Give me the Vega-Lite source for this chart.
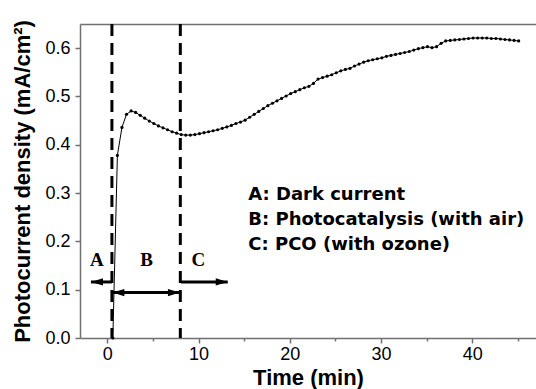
{
  "$schema": "https://vega.github.io/schema/vega-lite/v6.json",
  "width": 456,
  "height": 314,
  "autosize": {"type": "none"},
  "padding": {"left": 80, "top": 24, "right": 0, "bottom": 51},
  "background": "white",
  "config": {
    "view": {"stroke": null},
    "font": "Liberation Sans",
    "axis": {
      "grid": false,
      "domainColor": "#707070",
      "domainWidth": 1.5,
      "tickColor": "#707070",
      "tickWidth": 1.5,
      "tickSize": 5,
      "labelFont": "Liberation Sans",
      "labelFontSize": 18,
      "labelColor": "black",
      "titleFont": "Liberation Sans",
      "titleFontSize": 22,
      "titleFontWeight": "bold",
      "titleColor": "black"
    }
  },
  "datasets": {
    "curve": [
      {"t": 0.6, "j": 0.0},
      {"t": 1.1, "j": 0.378},
      {"t": 1.6, "j": 0.436},
      {"t": 2.1, "j": 0.463},
      {"t": 2.6, "j": 0.470},
      {"t": 3.1, "j": 0.467},
      {"t": 3.6, "j": 0.461},
      {"t": 4.1, "j": 0.455},
      {"t": 4.6, "j": 0.449},
      {"t": 5.1, "j": 0.444},
      {"t": 5.6, "j": 0.439},
      {"t": 6.1, "j": 0.435},
      {"t": 6.6, "j": 0.431},
      {"t": 7.1, "j": 0.427},
      {"t": 7.6, "j": 0.424},
      {"t": 8.1, "j": 0.421},
      {"t": 8.6, "j": 0.420},
      {"t": 9.1, "j": 0.420},
      {"t": 9.6, "j": 0.421},
      {"t": 10.1, "j": 0.423},
      {"t": 10.6, "j": 0.425},
      {"t": 11.1, "j": 0.427},
      {"t": 11.6, "j": 0.429},
      {"t": 12.1, "j": 0.431},
      {"t": 12.6, "j": 0.434},
      {"t": 13.1, "j": 0.437},
      {"t": 13.6, "j": 0.440},
      {"t": 14.1, "j": 0.444},
      {"t": 14.6, "j": 0.447},
      {"t": 15.1, "j": 0.451},
      {"t": 15.6, "j": 0.457},
      {"t": 16.1, "j": 0.463},
      {"t": 16.6, "j": 0.469},
      {"t": 17.1, "j": 0.475},
      {"t": 17.6, "j": 0.481},
      {"t": 18.1, "j": 0.486},
      {"t": 18.6, "j": 0.491},
      {"t": 19.1, "j": 0.496},
      {"t": 19.6, "j": 0.501},
      {"t": 20.1, "j": 0.506},
      {"t": 20.6, "j": 0.510},
      {"t": 21.1, "j": 0.514},
      {"t": 21.6, "j": 0.518},
      {"t": 22.1, "j": 0.521},
      {"t": 22.6, "j": 0.527},
      {"t": 23.1, "j": 0.536},
      {"t": 23.6, "j": 0.539},
      {"t": 24.1, "j": 0.542},
      {"t": 24.6, "j": 0.545},
      {"t": 25.1, "j": 0.549},
      {"t": 25.6, "j": 0.553},
      {"t": 26.1, "j": 0.556},
      {"t": 26.6, "j": 0.558},
      {"t": 27.1, "j": 0.563},
      {"t": 27.6, "j": 0.567},
      {"t": 28.1, "j": 0.571},
      {"t": 28.6, "j": 0.574},
      {"t": 29.1, "j": 0.576},
      {"t": 29.6, "j": 0.578},
      {"t": 30.1, "j": 0.580},
      {"t": 30.6, "j": 0.583},
      {"t": 31.1, "j": 0.585},
      {"t": 31.6, "j": 0.587},
      {"t": 32.1, "j": 0.589},
      {"t": 32.6, "j": 0.591},
      {"t": 33.1, "j": 0.593},
      {"t": 33.6, "j": 0.596},
      {"t": 34.1, "j": 0.599},
      {"t": 34.6, "j": 0.601},
      {"t": 35.1, "j": 0.603},
      {"t": 35.6, "j": 0.601},
      {"t": 36.1, "j": 0.603},
      {"t": 36.6, "j": 0.610},
      {"t": 37.1, "j": 0.615},
      {"t": 37.6, "j": 0.616},
      {"t": 38.1, "j": 0.617},
      {"t": 38.6, "j": 0.618},
      {"t": 39.1, "j": 0.619},
      {"t": 39.6, "j": 0.620},
      {"t": 40.1, "j": 0.621},
      {"t": 40.6, "j": 0.621},
      {"t": 41.1, "j": 0.621},
      {"t": 41.6, "j": 0.621},
      {"t": 42.1, "j": 0.620},
      {"t": 42.6, "j": 0.620},
      {"t": 43.1, "j": 0.619},
      {"t": 43.6, "j": 0.618},
      {"t": 44.1, "j": 0.617},
      {"t": 44.6, "j": 0.616},
      {"t": 45.1, "j": 0.615}
    ],
    "dividers": [{"t": 0.5}, {"t": 8.0}],
    "arrows": [
      {"x1": -1.8, "x2": 0.5, "y": 0.116},
      {"x1": 0.55, "x2": 7.96, "y": 0.094},
      {"x1": 8.07, "x2": 13.2, "y": 0.116}
    ],
    "heads": [
      {"x": -1.8, "y": 0.116, "dir": "left"},
      {"x": 0.55, "y": 0.094, "dir": "left"},
      {"x": 7.96, "y": 0.094, "dir": "right"},
      {"x": 13.2, "y": 0.116, "dir": "right"}
    ],
    "zones": [
      {"x": -1.14, "y": 0.161, "label": "A"},
      {"x": 4.3, "y": 0.161, "label": "B"},
      {"x": 9.97, "y": 0.161, "label": "C"}
    ],
    "notes": [
      {"x": 15.45, "y": 0.285, "label": "A: Dark current"},
      {"x": 15.45, "y": 0.233, "label": "B: Photocatalysis (with air)"},
      {"x": 15.45, "y": 0.182, "label": "C: PCO (with ozone)"}
    ]
  },
  "resolve": {"axis": {"x": "independent", "y": "independent"}},
  "layer": [
    {
      "data": {"name": "dividers"},
      "mark": {"type": "rule", "color": "black", "strokeWidth": 3, "strokeDash": [12, 7]},
      "encoding": {
        "x": {"field": "t", "type": "quantitative",
              "scale": {"domain": [-3, 47], "nice": false, "zero": false},
              "axis": {"orient": "top", "domain": true, "ticks": false, "labels": false, "title": null}}
      }
    },
    {
      "data": {"name": "curve"},
      "mark": {"type": "line", "color": "black", "strokeWidth": 1},
      "encoding": {
        "x": {"field": "t", "type": "quantitative",
              "scale": {"domain": [-3, 47], "nice": false, "zero": false},
              "axis": {"values": [0, 10, 20, 30, 40], "title": "Time (min)", "labelPadding": 2, "titlePadding": 4}},
        "y": {"field": "j", "type": "quantitative",
              "scale": {"domain": [0, 0.65], "nice": false, "zero": false},
              "axis": {"values": [0, 0.1, 0.2, 0.3, 0.4, 0.5, 0.6], "format": ".1f", "title": "Photocurrent density (mA/cm²)", "labelPadding": 5, "titlePadding": 10}}
      }
    },
    {
      "data": {"name": "curve"},
      "mark": {"type": "point", "filled": true, "color": "black", "opacity": 1, "size": 10},
      "encoding": {
        "x": {"field": "t", "type": "quantitative",
              "scale": {"domain": [-3, 47], "nice": false, "zero": false},
              "axis": {"values": [5, 15, 25, 35, 45], "tickSize": 3, "labels": false, "domain": false, "title": null}},
        "y": {"field": "j", "type": "quantitative",
              "scale": {"domain": [0, 0.65], "nice": false, "zero": false},
              "axis": {"values": [0.05, 0.15, 0.25, 0.35, 0.45, 0.55, 0.65], "tickSize": 3, "labels": false, "domain": false, "title": null}}
      }
    },
    {
      "data": {"name": "arrows"},
      "mark": {"type": "rule", "color": "black", "strokeWidth": 3},
      "encoding": {
        "x": {"field": "x1", "type": "quantitative", "axis": null},
        "x2": {"field": "x2"},
        "y": {"field": "y", "type": "quantitative", "axis": null}
      }
    },
    {
      "data": {"name": "heads"},
      "mark": {"type": "point", "filled": true, "color": "black", "opacity": 1, "size": 576},
      "encoding": {
        "x": {"field": "x", "type": "quantitative", "axis": null},
        "y": {"field": "y", "type": "quantitative", "axis": null},
        "shape": {"field": "dir", "type": "nominal", "legend": null,
                  "scale": {"domain": ["left", "right"], "range": ["M0,0L1,-0.3L1,0.3Z", "M0,0L-1,-0.3L-1,0.3Z"]}}
      }
    },
    {
      "data": {"name": "zones"},
      "mark": {"type": "text", "font": "Liberation Serif", "fontWeight": "bold", "fontSize": 19, "color": "black", "align": "center", "baseline": "middle"},
      "encoding": {
        "x": {"field": "x", "type": "quantitative", "axis": null},
        "y": {"field": "y", "type": "quantitative", "axis": null},
        "text": {"field": "label"}
      }
    },
    {
      "data": {"name": "notes"},
      "mark": {"type": "text", "font": "DejaVu Sans", "fontWeight": "bold", "fontSize": 18, "color": "black", "align": "left", "baseline": "alphabetic"},
      "encoding": {
        "x": {"field": "x", "type": "quantitative", "axis": null},
        "y": {"field": "y", "type": "quantitative", "axis": null},
        "text": {"field": "label"}
      }
    }
  ]
}
